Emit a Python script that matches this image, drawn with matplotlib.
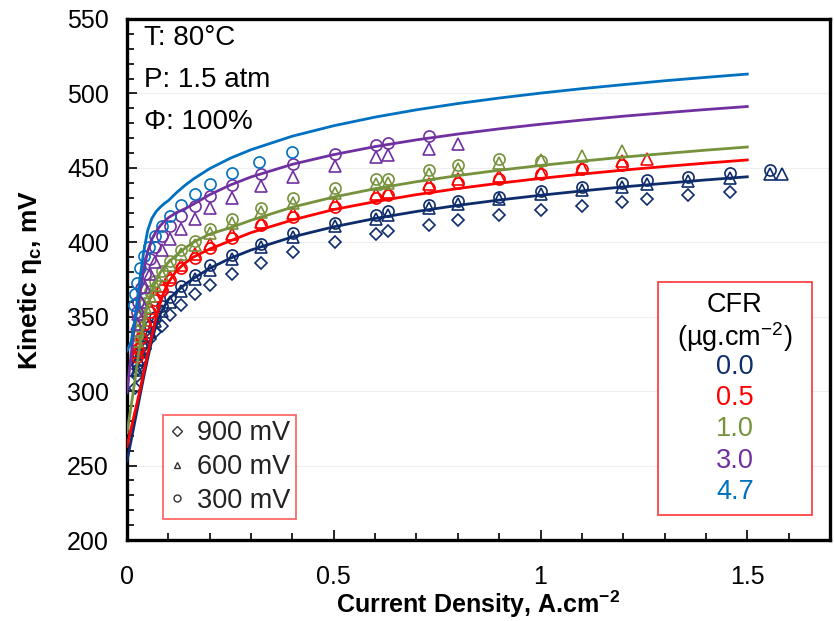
import matplotlib
matplotlib.use("Agg")
import matplotlib.pyplot as plt
from matplotlib.lines import Line2D
from matplotlib.patches import Rectangle
from matplotlib.ticker import MultipleLocator

plt.rcParams['font.family'] = ['Liberation Sans', 'DejaVu Sans']
plt.rcParams['mathtext.fontset'] = 'custom'
plt.rcParams['mathtext.rm'] = 'Liberation Sans'
plt.rcParams['mathtext.bf'] = 'Liberation Sans:bold'
plt.rcParams['mathtext.it'] = 'Liberation Sans:italic'

# ---------------- data ----------------
cfr_labels = ["0.0", "0.5", "1.0", "3.0", "4.7"]
colors = ["#0E2C6B", "#FF0000", "#76923C", "#7030A0", "#0070C0"]

# model (fit) lines
line_x = [0, 0.01, 0.02, 0.03, 0.04, 0.05, 0.06, 0.07, 0.08, 0.09, 0.1, 0.12, 0.14, 0.16, 0.2,
          0.25, 0.3, 0.4, 0.5, 0.6, 0.7, 0.8, 0.9, 1.0, 1.1, 1.2, 1.3, 1.4, 1.5]
line_y_00 = [253, 267, 281, 295, 309, 322, 334, 344, 351.5, 357, 361.5, 366.9, 371.6, 375.6, 382.5,
             389.3, 394.8, 403.6, 410.4, 416.0, 420.7, 424.8, 428.4, 431.6, 434.5, 437.2, 439.6, 441.9, 444.0]
line_y_05 = [263, 275, 287, 299, 312, 325, 337, 349, 359, 367, 373, 381, 386, 390, 395.5,
             401, 406.5, 415, 422, 427.3, 432, 436.1, 439.7, 442.9, 445.8, 448.5, 450.9, 453.2, 455.3]
line_y_10 = [272, 290, 309, 329, 346, 358, 367, 374, 379.5, 383.5, 386.5, 391.5, 396, 400, 405.5,
             409.8, 414.8, 423.6, 430.4, 436.0, 440.7, 444.8, 448.4, 451.6, 454.5, 457.2, 459.6, 461.9, 464.0]
line_y_30 = [299, 325, 348, 363, 381, 394, 402, 407, 411, 414, 416.5, 420, 422.5, 425.5, 432,
             438.5, 443.9, 452.4, 458.9, 464.3, 468.8, 472.7, 476.2, 479.3, 482.1, 484.7, 487.0, 489.2, 491.2]
line_y_47 = [327, 333, 350, 373, 393, 408, 416, 420.5, 423.5, 426, 428, 433.4, 438.2, 442.4, 449.5,
             456.5, 462.2, 471.3, 478.3, 484.1, 489.0, 493.2, 496.9, 500.2, 503.2, 505.9, 508.5, 510.8, 513.0]

# measured points: CFR 0.0
x00_c = [0.023, 0.027, 0.033, 0.043, 0.056, 0.068, 0.084, 0.104, 0.13, 0.164, 0.2, 0.253, 0.323, 0.402,
         0.502, 0.601, 0.631, 0.73, 0.8, 0.9, 1.0, 1.1, 1.196, 1.257, 1.356, 1.457, 1.556]
y00_c = [318, 325, 330, 337, 344, 350, 357, 363, 370.5, 378, 384.5, 391.5, 399, 406,
         413, 418, 421, 425, 427.7, 430.7, 434.2, 437.1, 440, 441.8, 444, 446.3, 448.6]
x00_t = [0.023, 0.027, 0.033, 0.043, 0.056, 0.068, 0.084, 0.104, 0.13, 0.164, 0.2, 0.253, 0.323, 0.402,
         0.502, 0.601, 0.631, 0.73, 0.8, 0.9, 1.0, 1.1, 1.196, 1.257, 1.356, 1.457, 1.556, 1.585]
y00_t = [314, 321, 327, 333, 340, 347, 354, 360, 367, 375.5, 381.7, 388.5, 396.8, 403.7,
         410.9, 415.8, 418.1, 422.8, 425.5, 428.8, 432.2, 435.1, 437, 439, 441, 443.4, 445.7, 446.2]
x00_d = [0.019, 0.023, 0.027, 0.033, 0.043, 0.056, 0.068, 0.084, 0.104, 0.13, 0.164, 0.2, 0.253, 0.323,
         0.402, 0.502, 0.601, 0.631, 0.73, 0.8, 0.9, 1.0, 1.1, 1.196, 1.257, 1.356, 1.457]
y00_d = [302, 310, 315, 321, 328, 335, 340, 344, 351, 358, 365, 371.6, 378.8, 386.2,
         393.4, 400.1, 405.8, 407.5, 411.8, 414.9, 418.3, 421.9, 424.6, 427.3, 429.3, 431.5, 433.6]

# CFR 0.5
x05_c = [0.023, 0.027, 0.033, 0.043, 0.056, 0.068, 0.084, 0.104, 0.13, 0.164, 0.2, 0.253, 0.323, 0.402,
         0.502, 0.601, 0.631, 0.73, 0.8, 0.9, 1.0, 1.1, 1.196]
y05_c = [323, 328, 336, 345, 353, 361, 368, 374.5, 383, 389.6, 396.4, 403, 411.3, 417.2,
         423.9, 430, 431.5, 436.7, 439.6, 442.3, 445.7, 449, 451.7]
x05_t = [0.023, 0.027, 0.033, 0.043, 0.056, 0.068, 0.084, 0.104, 0.13, 0.164, 0.2, 0.253, 0.323, 0.402,
         0.502, 0.601, 0.631, 0.73, 0.8, 0.9, 1.0, 1.1, 1.196, 1.257]
y05_t = [326, 330, 339, 348, 356, 364, 370.5, 377, 385, 391.8, 398.6, 405.3, 413.8, 419.4,
         426.6, 432.2, 433.8, 439, 442.3, 444.5, 447.2, 450.8, 454.6, 456.2]

# CFR 1.0
x10_c = [0.023, 0.027, 0.033, 0.043, 0.056, 0.068, 0.084, 0.104, 0.13, 0.164, 0.2, 0.253, 0.323, 0.402,
         0.502, 0.601, 0.631, 0.73, 0.8, 0.9, 1.0]
y10_c = [337, 343.6, 350.3, 359.3, 367, 374, 380.6, 387.3, 394.5, 400.8, 408.7, 415.8, 423.3, 429.5,
         436.3, 442.3, 442.8, 448.6, 451.7, 455.8, 454.5]
x10_t = [0.023, 0.027, 0.033, 0.043, 0.056, 0.068, 0.084, 0.104, 0.13, 0.164, 0.2, 0.253, 0.323, 0.402,
         0.502, 0.601, 0.631, 0.73, 0.8, 0.9, 1.0, 1.1, 1.196]
y10_t = [334, 341, 347.5, 356.5, 364, 371, 378, 385, 392, 398, 406, 413.2, 420.3, 426.6,
         433.4, 439.4, 440.1, 445.7, 449, 453, 455.3, 458, 461.5]

# CFR 3.0
x30_c = [0.023, 0.027, 0.033, 0.043, 0.056, 0.068, 0.084, 0.104, 0.13, 0.164, 0.2, 0.253, 0.323, 0.402,
         0.502, 0.601, 0.631, 0.73]
y30_c = [353, 360, 369, 379, 389, 397, 404, 411, 417.6, 424.3, 431, 438.5, 445.7, 452.4,
         459.6, 465.2, 466.5, 471.5]
x30_t = [0.023, 0.027, 0.033, 0.043, 0.056, 0.068, 0.084, 0.104, 0.13, 0.164, 0.2, 0.253, 0.323, 0.402,
         0.502, 0.601, 0.631, 0.73, 0.8]
y30_t = [345, 352, 360, 370, 379, 387, 395, 402, 409, 415.8, 423.3, 429.5, 437.8, 444,
         451.3, 457, 458.5, 463, 465.9]

# CFR 4.7
x47_c = [0.017, 0.02, 0.024, 0.031, 0.041, 0.054, 0.068, 0.084, 0.104, 0.13, 0.164, 0.2, 0.253, 0.32, 0.398]
y47_c = [358, 365, 372.8, 383, 390.5, 397, 404, 410.9, 417.6, 424.8, 432.2, 439.4, 446.4, 454, 460.7]

line_ys = [line_y_00, line_y_05, line_y_10, line_y_30, line_y_47]
points = [
    [("o", x00_c, y00_c), ("^", x00_t, y00_t), ("D", x00_d, y00_d)],
    [("o", x05_c, y05_c), ("^", x05_t, y05_t)],
    [("o", x10_c, y10_c), ("^", x10_t, y10_t)],
    [("o", x30_c, y30_c), ("^", x30_t, y30_t)],
    [("o", x47_c, y47_c)],
]
voltage_labels = ["900 mV", "600 mV", "300 mV"]
conditions = ["T: 80°C", "P: 1.5 atm", "Φ: 100%"]

# ---------------- figure ----------------
W, H = 834, 621
fig = plt.figure(figsize=(W / 100, H / 100), dpi=100)
ax = fig.add_axes([127 / W, (H - 540) / H, (830 - 127) / W, (540 - 19) / H])

msz = {"o": 8.0, "^": 8.0, "D": 6.0}
for col, plist in zip(colors, points):
    for m, px, py in plist:
        ax.plot(px, py, ls="none", marker=m, ms=msz[m], mfc="none", mec=col, mew=1.2, zorder=3)
for col, ly in zip(colors, line_ys):
    ax.plot(line_x, ly, color=col, lw=2.0, zorder=4, solid_joinstyle="round")

ax.set_xlim(0, 1.7)
ax.set_ylim(200, 550)
ax.xaxis.set_minor_locator(MultipleLocator(0.1))
ax.yaxis.set_major_locator(MultipleLocator(50))
ax.yaxis.set_minor_locator(MultipleLocator(10))
ax.set_xticks([0, 0.5, 1, 1.5])
ax.set_xticklabels(["0", "0.5", "1", "1.5"])
ax.tick_params(which="both", direction="in", width=1.2, labelsize=18, colors="black")
ax.tick_params(which="major", length=7)
ax.tick_params(which="minor", length=5)
ax.tick_params(axis="x", pad=18)
ax.tick_params(axis="y", pad=13)
ax.grid(axis="y", which="major", color="#EEEEEE", lw=0.8)
ax.set_axisbelow(True)
for s in ax.spines.values():
    s.set_linewidth(2.4)
    s.set_color("black")

ax.set_xlabel(r"Current Density, A.cm$^{\mathbf{-2}}$", fontsize=18, fontweight="bold")
ax.xaxis.set_label_coords(0.5, (540 - 589) / 521)
ax.set_ylabel(r"Kinetic η$_{\mathbf{c}}$, mV", fontsize=19, fontweight="bold")
ax.yaxis.set_label_coords((44 - 127) / 703, 0.5)

for i, t in enumerate(conditions):
    fig.text(144 / W, 1 - (38 + i * 42) / H, t, fontsize=20, ha="left", va="center")

# voltage legend
handles = [Line2D([], [], ls="none", marker=m, ms=5, mfc="none", mec="#333333", mew=1.0)
           for m in ["D", "^", "o"]]
leg = ax.legend(handles, voltage_labels, loc="lower left",
                bbox_to_anchor=(163 / W, (H - 519) / H), bbox_transform=fig.transFigure,
                fontsize=19.5, frameon=True, fancybox=False, edgecolor="#FF3333",
                handlelength=0.6, handletextpad=0.45, labelspacing=0.28, borderpad=0.2,
                borderaxespad=0)
leg.get_frame().set_linewidth(1.2)
for t in leg.get_texts():
    t.set_color("#222222")

# CFR legend box
fig.patches.append(Rectangle((658 / W, 1 - 515 / H), (812 - 658) / W, (515 - 282) / H,
                             transform=fig.transFigure, fill=True, facecolor="white",
                             edgecolor="#FF3333", lw=1.2, zorder=5))
cx = 735 / W
fig.text(cx, 1 - 305 / H, "CFR", fontsize=19.5, ha="center", va="center", zorder=6)
fig.text(cx, 1 - 337 / H, r"(µg.cm$^{-2}$)", fontsize=19.5, ha="center", va="center", zorder=6)
for i, (lab, col) in enumerate(zip(cfr_labels, colors)):
    fig.text(cx, 1 - (367 + i * 31.2) / H, lab, fontsize=19.5, color=col, ha="center", va="center", zorder=6)

fig.savefig("out.png", dpi=100)
